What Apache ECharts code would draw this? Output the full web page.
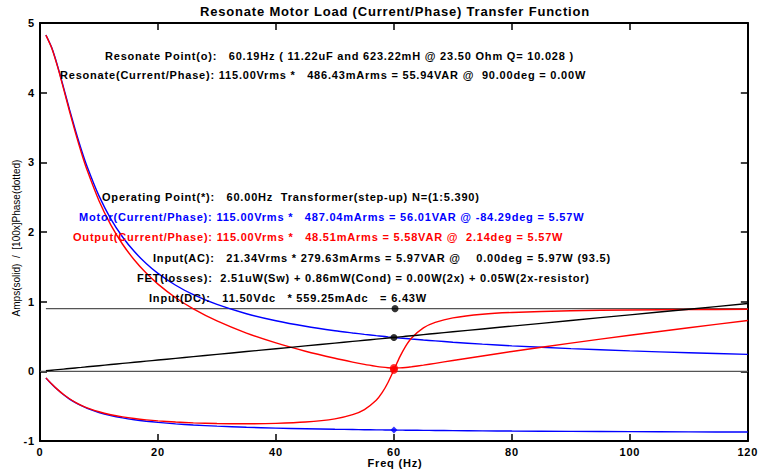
<!DOCTYPE html>
<html>
<head>
<meta charset="utf-8">
<script src="https://cdn.jsdelivr.net/npm/echarts@6/dist/echarts.min.js"></script>
<style>
  html, body { margin: 0; padding: 0; background: #fff; }
  #chart { width: 760px; height: 472px; }
  /* Bold annotation and tick text is set with open tracking */
  #chart text[style*="bold"] { letter-spacing: 0.8px; }
</style>
</head>
<body>
<div id="chart"></div>
<script>
// Frequency sweep (Hz)
const freq = [1, 2, 3, 4, 5, 6, 7, 8, 10, 12, 14, 16, 18, 20, 23, 26, 30, 35, 40, 45, 50, 53, 55, 57, 58, 59, 60, 61, 62, 63, 65, 67, 70, 75, 80, 90, 100, 110, 120];

// Motor branch current (A) and phase (deg)
const motorAmps = [4.827, 4.643, 4.377, 4.072, 3.760, 3.461, 3.185, 2.937, 2.518, 2.189, 1.928, 1.719, 1.548, 1.407, 1.236, 1.101, 0.960, 0.827, 0.726, 0.647, 0.583, 0.551, 0.531, 0.512, 0.504, 0.495, 0.487, 0.479, 0.472, 0.464, 0.450, 0.437, 0.418, 0.390, 0.366, 0.326, 0.293, 0.267, 0.244];
const motorPhaseDeg = [-9.46, -18.43, -26.56, -33.69, -39.80, -44.99, -49.39, -53.13, -59.03, -63.43, -66.80, -69.44, -71.56, -73.30, -75.38, -77.00, -78.69, -80.27, -81.47, -82.40, -83.16, -83.54, -83.77, -83.99, -84.09, -84.19, -84.29, -84.38, -84.47, -84.56, -84.73, -84.88, -85.10, -85.43, -85.71, -86.19, -86.57, -86.88, -87.14];

// Output (motor + capacitor) current (A) and phase (deg)
const outputAmps = [4.826, 4.637, 4.366, 4.054, 3.734, 3.427, 3.142, 2.885, 2.449, 2.102, 1.824, 1.598, 1.410, 1.252, 1.056, 0.897, 0.723, 0.549, 0.408, 0.289, 0.187, 0.133, 0.100, 0.072, 0.060, 0.052, 0.0485, 0.050, 0.056, 0.066, 0.089, 0.115, 0.155, 0.221, 0.285, 0.405, 0.518, 0.626, 0.729];
const outputPhaseDeg = [-9.37, -18.24, -26.27, -33.30, -39.32, -44.42, -48.72, -52.35, -58.05, -62.24, -65.39, -67.80, -69.68, -71.16, -72.82, -73.97, -74.91, -75.26, -74.70, -72.81, -68.19, -62.18, -54.85, -41.50, -30.68, -15.96, 2.14, 20.71, 36.30, 47.96, 62.36, 70.23, 76.70, 81.91, 84.48, 86.94, 88.06, 88.67, 89.04];

// Capacitor current (A)
const capAmps = [0.0081, 0.0162, 0.0243, 0.0324, 0.0405, 0.0486, 0.0567, 0.0649, 0.0811, 0.0973, 0.1135, 0.1297, 0.1459, 0.1621, 0.1865, 0.2108, 0.2432, 0.2838, 0.3243, 0.3648, 0.4054, 0.4297, 0.4459, 0.4621, 0.4702, 0.4783, 0.4864, 0.4945, 0.5027, 0.5108, 0.5270, 0.5432, 0.5675, 0.6080, 0.6486, 0.7297, 0.8107, 0.8918, 0.9729];

// Reference lines: zero and capacitor phase (90 deg)
const zeroLineX = [0, 120];
const zeroLineY = [0, 0];
const capPhaseX = [1, 120];
const capPhaseDeg = [90, 90];

// Operating and resonance points
const operatingFreq = 60;
const resonateFreq = 60.19;
const resonatePhaseDeg = 90;

// Axis ticks
const xTicks = { min: 0, max: 120, step: 20 };
const yTicks = { min: -1, max: 5, step: 1 };

// Texts
const titleText = 'Resonate Motor Load (Current/Phase) Transfer Function';
const xAxisTitle = 'Freq (Hz)';
const yAxisTitle = 'Amps(solid)  /  [100x]Phase(dotted)';
const infoLines = [
  { text: 'Resonate Point(o):   60.19Hz ( 11.22uF and 623.22mH @ 23.50 Ohm Q= 10.028 )', color: '#000' },
  { text: 'Resonate(Current/Phase): 115.00Vrms *   486.43mArms = 55.94VAR @  90.00deg = 0.00W', color: '#000' },
  { text: 'Operating Point(*):   60.00Hz  Transformer(step-up) N=(1:5.390)', color: '#000' },
  { text: 'Motor(Current/Phase): 115.00Vrms *   487.04mArms = 56.01VAR @ -84.29deg = 5.57W', color: '#0000ff' },
  { text: 'Output(Current/Phase): 115.00Vrms *   48.51mArms = 5.58VAR @  2.14deg = 5.57W', color: '#ff0000' },
  { text: 'Input(AC):   21.34Vrms * 279.63mArms = 5.97VAR @    0.00deg = 5.97W (93.5)', color: '#000' },
  { text: 'FET(losses):  2.51uW(Sw) + 0.86mW(Cond) = 0.00W(2x) + 0.05W(2x-resistor)', color: '#000' },
  { text: 'Input(DC):   11.50Vdc   * 559.25mAdc   = 6.43W', color: '#000' }
];
// Line placement (left x, middle y) in pixels
const infoPos = [[105, 56], [60, 75], [102, 197], [79, 217], [73, 237], [153, 258], [137, 278], [149, 298]];

const FONT = '"Liberation Sans", Arial, Helvetica, sans-serif';

function pairs(xs, ys, scale) {
  return xs.map((x, i) => [x, ys[i] * (scale || 1)]);
}
const opIdx = freq.indexOf(operatingFreq);

const chart = echarts.init(document.getElementById('chart'), null, { renderer: 'svg' });

const axisLineStyle = { show: true, onZero: false, lineStyle: { color: '#000', width: 2 } };
const tickStyle = { show: true, inside: true, length: 7, lineStyle: { color: '#000', width: 1.5 } };
const labelStyle = { color: '#000', fontWeight: 'bold', fontSize: 11, fontFamily: FONT };

function lineSeries(data, color, width, z) {
  return {
    type: 'line', data: data, showSymbol: false, symbol: 'none',
    smooth: 0.25,
    lineStyle: { color: color, width: width || 1.4 },
    itemStyle: { color: color },
    z: z || 2, silent: true, animation: false
  };
}

const option = {
  animation: false,
  backgroundColor: '#fff',
  grid: { left: 40, right: 10, top: 23, bottom: 31 },
  xAxis: [
    { type: 'value', min: xTicks.min, max: xTicks.max, interval: xTicks.step, position: 'bottom',
      axisLine: axisLineStyle, axisTick: tickStyle,
      axisLabel: Object.assign({ margin: 5 }, labelStyle), splitLine: { show: false } },
    { type: 'value', min: xTicks.min, max: xTicks.max, interval: xTicks.step, position: 'top',
      axisLine: axisLineStyle, axisTick: tickStyle, axisLabel: { show: false }, splitLine: { show: false } }
  ],
  yAxis: [
    { type: 'value', min: yTicks.min, max: yTicks.max, interval: yTicks.step, position: 'left',
      axisLine: axisLineStyle, axisTick: tickStyle,
      axisLabel: Object.assign({ margin: 5 }, labelStyle), splitLine: { show: false } },
    { type: 'value', min: yTicks.min, max: yTicks.max, interval: yTicks.step, position: 'right',
      axisLine: axisLineStyle, axisTick: tickStyle, axisLabel: { show: false }, splitLine: { show: false } }
  ],
  series: [
    lineSeries(pairs(zeroLineX, zeroLineY), '#555', 1.2, 1),
    lineSeries(pairs(capPhaseX, capPhaseDeg, 0.01), '#555', 1.2, 1),
    lineSeries(pairs(freq, motorAmps), '#0000ff', 1.4, 2),
    lineSeries(pairs(freq, motorPhaseDeg, 0.01), '#0000ff', 1.4, 2),
    lineSeries(pairs(freq, outputAmps), '#ff0000', 1.4, 3),
    lineSeries(pairs(freq, outputPhaseDeg, 0.01), '#ff0000', 1.4, 3),
    lineSeries(pairs(freq, capAmps), '#000', 1.4, 4),
    { type: 'scatter', symbol: 'circle', symbolSize: 7, itemStyle: { color: '#000' }, z: 6, silent: true,
      data: [[resonateFreq, resonatePhaseDeg * 0.01], [freq[opIdx], capAmps[opIdx]]] },
    { type: 'scatter', symbol: 'circle', symbolSize: 8, itemStyle: { color: '#ff0000' }, z: 6, silent: true,
      data: [[freq[opIdx], outputAmps[opIdx]], [freq[opIdx], outputPhaseDeg[opIdx] * 0.01]] },
    { type: 'scatter', symbol: 'diamond', symbolSize: 7, itemStyle: { color: '#0000ff' }, z: 6, silent: true,
      data: [[freq[opIdx], motorPhaseDeg[opIdx] * 0.01]] }
  ],
  graphic: [
    { type: 'text', x: 395, y: 11, z: 10, silent: true,
      style: { text: titleText, textAlign: 'center', textVerticalAlign: 'middle', fill: '#000',
        font: 'bold 13px ' + FONT } },
    { type: 'text', x: 395, y: 463, z: 10, silent: true,
      style: { text: xAxisTitle, textAlign: 'center', textVerticalAlign: 'middle', fill: '#000',
        font: 'bold 11px ' + FONT } },
    { type: 'text', x: 16, y: 238, rotation: Math.PI / 2, z: 10, silent: true,
      style: { text: yAxisTitle, textAlign: 'center', textVerticalAlign: 'middle', fill: '#000',
        font: '10px ' + FONT } }
  ].concat(infoLines.map((ln, i) => ({
    type: 'text', x: infoPos[i][0], y: infoPos[i][1], z: 10, silent: true,
    style: { text: ln.text, textAlign: 'left', textVerticalAlign: 'middle', fill: ln.color,
      font: 'bold 11px ' + FONT }
  })))
};

chart.setOption(option);
</script>
</body>
</html>
